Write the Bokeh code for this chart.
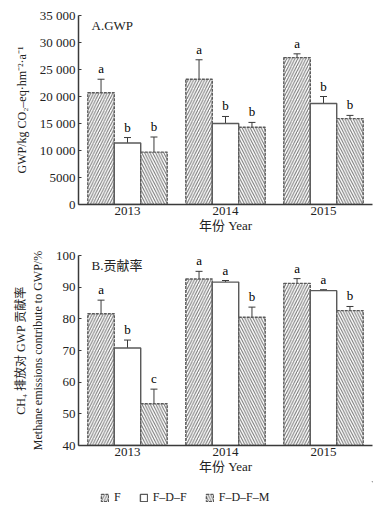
from bokeh.plotting import figure
from bokeh.models import (ColumnDataSource, FactorRange, Range1d, FixedTicker,
                          Whisker, TeeHead, Label, Legend, LegendItem)
from bokeh.transform import dodge
from bokeh.layouts import column
from bokeh.core.properties import value
from bokeh.embed import file_html
from bokeh.resources import INLINE

# ---------------- data ----------------
years = ["2013", "2014", "2015"]
treatments = ["F", "F\u2013D\u2013F", "F\u2013D\u2013F\u2013M"]

gwp_F = [20700, 23200, 27200]
gwp_F_err = [2500, 3600, 700]
gwp_FDF = [11400, 15000, 18700]
gwp_FDF_err = [1000, 1300, 1300]
gwp_FDFM = [9700, 14300, 15900]
gwp_FDFM_err = [2800, 900, 600]
gwp_let_F = ["a", "a", "a"]
gwp_let_FDF = ["b", "b", "b"]
gwp_let_FDFM = ["b", "b", "b"]

pct_F = [81.6, 92.6, 91.2]
pct_F_err = [4.3, 2.4, 1.5]
pct_FDF = [70.8, 91.6, 88.9]
pct_FDF_err = [2.5, 0.5, 0.3]
pct_FDFM = [53.2, 80.5, 82.6]
pct_FDFM_err = [4.6, 3.2, 1.3]
pct_let_F = ["a", "a", "a"]
pct_let_FDF = ["b", "a", "a"]
pct_let_FDFM = ["c", "b", "b"]

gwp_ticks = [0, 5000, 10000, 15000, 20000, 25000, 30000, 35000]
gwp_tick_labels = ["0", "5000", "10 000", "15 000", "20 000", "25 000", "30 000", "35 000"]
pct_ticks = [40, 50, 60, 70, 80, 90, 100]
pct_tick_labels = ["40", "50", "60", "70", "80", "90", "100"]

SERIF = "Liberation Serif, Noto Sans CJK SC"
DARK = "#3a3a3a"
EDGE = "#5a5a5a"
HATCH = "#707070"

styles = [
    dict(hatch_pattern="/", line_dash="3 1"),
    dict(hatch_pattern=" ", line_dash="solid"),
    dict(hatch_pattern="\\", line_dash="3 1"),
]
offsets = [-0.27, 0.0, 0.27]


def bar_style(i):
    st = styles[i]
    return dict(fill_color="white", line_color=EDGE, line_width=1.4,
                line_dash=st["line_dash"], hatch_pattern=st["hatch_pattern"],
                hatch_color=HATCH, hatch_scale=5.5, hatch_weight=1)


def make_panel(series, errs, letters, yr, ticks, tick_labels, ylabel, title,
               frame_h, border_bottom):
    p = figure(x_range=FactorRange(factors=years), y_range=Range1d(*yr),
               frame_width=294, frame_height=frame_h, output_backend="svg",
               toolbar_location=None, tools="",
               min_border_left=78, min_border_right=5,
               min_border_top=15, min_border_bottom=border_bottom)
    p.outline_line_color = None
    p.grid.visible = False

    for i, (vals, err, let) in enumerate(zip(series, errs, letters)):
        src = ColumnDataSource(dict(
            year=years, top=vals,
            upper=[v + e for v, e in zip(vals, err)],
            lower=[v - e for v, e in zip(vals, err)],
            letter=let))
        xs = dodge("year", offsets[i], range=p.x_range)
        p.vbar(x=xs, top="top", bottom=yr[0], width=0.27, source=src, **bar_style(i))
        w = Whisker(base=xs, upper="upper", lower="lower", source=src,
                    line_color=DARK, line_width=1,
                    upper_head=TeeHead(size=7, line_color=DARK, line_width=1),
                    lower_head=TeeHead(size=7, line_color=DARK, line_width=1))
        p.add_layout(w)
        p.text(x=xs, y="upper", text="letter", source=src, y_offset=-3,
               text_align="center", text_baseline="bottom",
               text_font=value(SERIF), text_font_size="13px",
               text_color=value("black"))

    p.yaxis.ticker = FixedTicker(ticks=ticks)
    p.yaxis.major_label_overrides = {t: l for t, l in zip(ticks, tick_labels)}
    for ax in (p.xaxis, p.yaxis):
        ax.axis_line_color = DARK
        ax.axis_line_width = 1.5
        ax.major_label_text_font = SERIF
        ax.major_label_text_font_size = "13px"
        ax.major_label_text_color = "#222"
        ax.axis_label_text_font = SERIF
        ax.axis_label_text_font_style = "normal"
        ax.axis_label_text_color = "#222"
        ax.minor_tick_line_color = None
    p.yaxis.major_tick_in = 3
    p.yaxis.major_tick_out = 0
    p.yaxis.major_tick_line_color = DARK
    p.xaxis.major_tick_line_color = None
    p.xaxis.major_tick_in = 0
    p.xaxis.major_tick_out = 0
    p.xaxis.major_label_standoff = 2
    p.xaxis.axis_label = "年份 Year"
    p.xaxis.axis_label_text_font_size = "13px"
    p.xaxis.axis_label_standoff = 0
    p.yaxis.axis_label = ylabel
    p.yaxis.axis_label_text_font_size = "12px"
    p.yaxis.axis_label_standoff = 8
    p.yaxis.major_label_standoff = 3

    p.add_layout(Label(x=13, y=yr[1], x_units="screen", y_units="data",
                       y_offset=-17, text=title, text_font=SERIF,
                       text_font_size="13px", text_color="#222"))
    return p


p1 = make_panel([gwp_F, gwp_FDF, gwp_FDFM], [gwp_F_err, gwp_FDF_err, gwp_FDFM_err],
                [gwp_let_F, gwp_let_FDF, gwp_let_FDFM], (0, 35000),
                gwp_ticks, gwp_tick_labels,
                "GWP/kg CO\u2082\u2013eq\u00b7hm\u207b\u00b2\u00b7a\u207b\u00b9", "A.GWP",
                189, 36)
p2 = make_panel([pct_F, pct_FDF, pct_FDFM], [pct_F_err, pct_FDF_err, pct_FDFM_err],
                [pct_let_F, pct_let_FDF, pct_let_FDFM], (40, 100),
                pct_ticks, pct_tick_labels,
                "CH\u2084 排放对 GWP 贡献率\nMethane emissions contribute to GWP/%",
                "B.贡献率", 190, 36)

# legend strip (swatch renderers sit outside the visible range)
p3 = figure(width=377, height=29, x_range=Range1d(0, 1), y_range=Range1d(0, 1),
            output_backend="svg", toolbar_location=None, tools="",
            min_border=0)
p3.axis.visible = False
p3.grid.visible = False
p3.outline_line_color = None
items = []
for i, name in enumerate(treatments):
    r = p3.vbar(x=[5], top=[6], bottom=[5], width=0.1, **bar_style(i))
    items.append(LegendItem(label=name, renderers=[r]))
leg = Legend(items=items, orientation="horizontal", location=(22, 5),
             border_line_color=None, background_fill_alpha=0,
             label_text_font=SERIF, label_text_font_size="12px",
             label_text_color="#222",
             glyph_width=9, glyph_height=9, spacing=18, label_height=12,
             label_width=0, label_standoff=5, padding=2, margin=0)
p3.add_layout(leg, "center")

layout = column(p1, p2, p3, spacing=0)
open("out.html", "w").write(file_html(layout, INLINE))
